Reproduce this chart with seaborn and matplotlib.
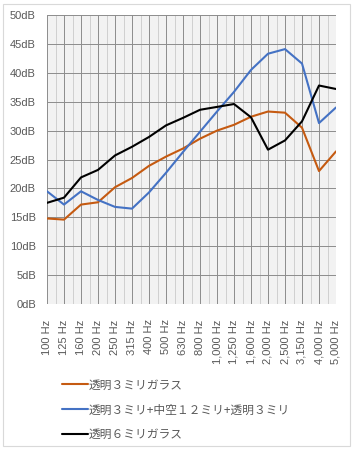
import pandas as pd
import matplotlib
matplotlib.use('Agg')
import matplotlib.pyplot as plt
import seaborn as sns
from matplotlib.ticker import MultipleLocator, FuncFormatter
from matplotlib.patches import Rectangle

# data
freqs = ['100 Hz', '125 Hz', '160 Hz', '200 Hz', '250 Hz', '315 Hz', '400 Hz', '500 Hz',
         '630 Hz', '800 Hz', '1,000 Hz', '1,250 Hz', '1,600 Hz', '2,000 Hz', '2,500 Hz',
         '3,150 Hz', '4,000 Hz', '5,000 Hz']
glass3 = [14.8, 14.6, 17.2, 17.6, 20.2, 21.8, 23.9, 25.5, 26.9, 28.6, 30.0, 31.0,
          32.4, 33.3, 33.1, 30.5, 23.0, 26.4]
pair3_12_3 = [19.5, 17.2, 19.5, 18.0, 16.8, 16.5, 19.3, 22.7, 26.3, 29.8, 33.3, 36.7,
              40.5, 43.3, 44.1, 41.6, 31.3, 34.0]
glass6 = [17.5, 18.4, 21.9, 23.2, 25.7, 27.2, 28.9, 30.9, 32.2, 33.6, 34.1, 34.6,
          32.3, 26.7, 28.3, 31.6, 37.8, 37.2]
names = ['透明３ミリガラス', '透明３ミリ+中空１２ミリ+透明３ミリ', '透明６ミリガラス']
colors = ['#C55A11', '#4472C4', '#000000']

# long format for seaborn
df = pd.concat([
    pd.DataFrame({'freq': freqs, 'dB': vals, 'glass': name})
    for name, vals in zip(names, [glass3, pair3_12_3, glass6])
], ignore_index=True)

sns.set_style('white')
plt.rcParams['font.family'] = ['Liberation Sans', 'Noto Sans CJK JP', 'DejaVu Sans']

fig = plt.figure(figsize=(3.55, 4.49), dpi=100)
ax = fig.add_axes([47 / 355, 1 - 304 / 449, 289 / 355, 289 / 449])
ax.set_facecolor('#F2F2F2')

sns.lineplot(data=df, x='freq', y='dB', hue='glass', palette=colors, sort=False,
             linewidth=1.5, ax=ax, legend=False)

ax.set_xlim(0, len(freqs) - 1)
ax.set_ylim(0, 50)
ax.yaxis.set_major_locator(MultipleLocator(5))
ax.yaxis.set_major_formatter(FuncFormatter(lambda v, p: f'{v:.0f}dB'))
ax.xaxis.set_minor_locator(MultipleLocator(0.5))
ax.grid(True, which='major', color='#8C8C8C', linewidth=0.7)
ax.grid(True, which='minor', axis='x', color='#CFCFCF', linewidth=0.7)
ax.set_axisbelow(True)
for s in ax.spines.values():
    s.set_visible(False)
ax.tick_params(axis='both', which='both', length=0, colors='#595959', labelsize=8)
ax.tick_params(axis='x', pad=11)
ax.tick_params(axis='y', pad=8)
plt.setp(ax.get_xticklabels(), rotation=90)
ax.set_xlabel('')
ax.set_ylabel('')

# legend below the plot
handles = [plt.Line2D([], [], color=c, linewidth=1.5) for c in colors]
fig.legend(handles, names, loc='upper left', bbox_to_anchor=(51 / 355, 1 - 368 / 449),
           frameon=False, labelcolor='#595959', handlelength=2.2,
           handletextpad=0.05, labelspacing=1.0,
           prop={'family': ['Noto Sans CJK JP', 'DejaVu Sans'], 'size': 8.5})

# chart border
fig.patches.append(Rectangle((3 / 355, 3 / 449), 347 / 355, 442 / 449, transform=fig.transFigure,
                             fill=False, edgecolor='#D9D9D9', linewidth=0.8))

fig.savefig('out.png', dpi=100, facecolor='white')
